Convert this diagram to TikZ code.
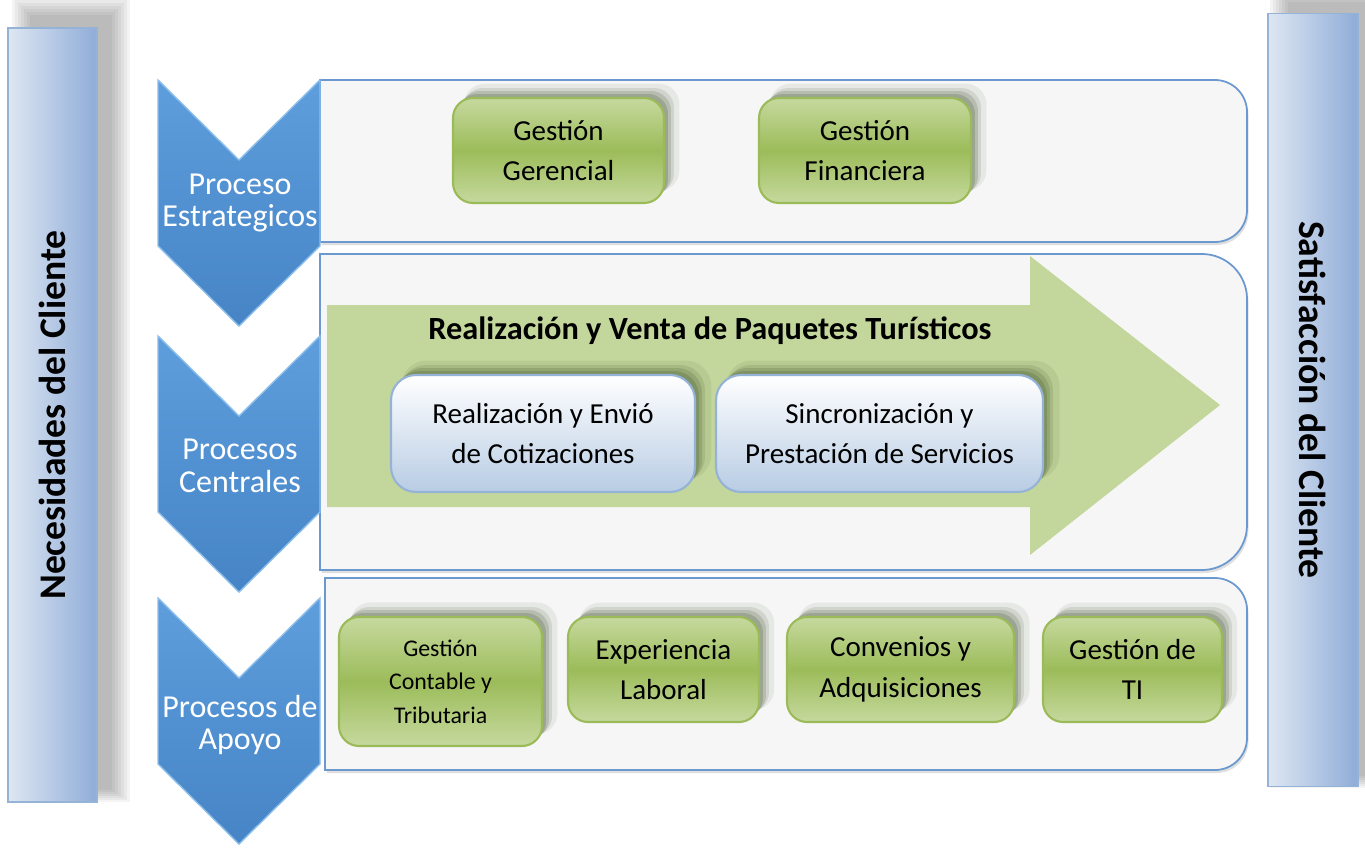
\documentclass[tikz,border=0pt]{standalone}
\usepackage{fontspec}
\setmainfont{Carlito}
\usetikzlibrary{shadows}

\definecolor{chevtop}{RGB}{94,158,220}
\definecolor{chevbot}{RGB}{70,132,198}
\definecolor{chevedge}{RGB}{140,190,235}
\definecolor{panelfill}{RGB}{246,246,246}
\definecolor{panelline}{RGB}{108,152,208}
\definecolor{arrowgreen}{RGB}{195,214,155}
\definecolor{greenlight}{RGB}{198,217,158}
\definecolor{greenmid}{RGB}{156,188,90}
\definecolor{greenline}{RGB}{155,187,89}
\definecolor{bluebot}{RGB}{184,204,228}
\definecolor{blueline}{RGB}{149,179,215}
\definecolor{barlight}{RGB}{222,231,242}
\definecolor{bardark}{RGB}{143,172,216}
\definecolor{shadowgreen}{RGB}{50,70,30}

\tikzset{
    softshadow/.style={
        drop shadow={shadow xshift=0.26cm, shadow yshift=0.26cm, shadow scale=1.02, opacity=0.08, fill=#1},
        drop shadow={shadow xshift=0.2cm, shadow yshift=0.2cm, opacity=0.12, fill=#1},
        drop shadow={shadow xshift=0.14cm, shadow yshift=0.14cm, opacity=0.16, fill=#1},
        drop shadow={shadow xshift=0.08cm, shadow yshift=0.08cm, opacity=0.2, fill=#1}},
    greenbox/.style={draw=greenline, line width=1.2pt, rounded corners=0.4cm,
        softshadow=shadowgreen,
        top color=greenlight, bottom color=greenlight, middle color=greenmid,
        inner sep=0pt, align=center, font=\fontsize{16.5}{23}\selectfont},
    bluebox/.style={draw=blueline, line width=1.2pt, rounded corners=0.5cm,
        softshadow=shadowgreen,
        top color=white, bottom color=bluebot,
        inner sep=0pt, align=center, font=\fontsize{16.5}{23}\selectfont},
    chevlabel/.style={text=white, align=center, font=\fontsize{18.2}{18.5}\selectfont},
    sidebar/.style={draw=blueline, line width=0.8pt, inner sep=0pt,
        left color=barlight, right color=bardark,
        font=\bfseries\fontsize{21.4}{24}\selectfont},
    panel/.style={draw=panelline, line width=1pt, fill=panelfill,
        drop shadow={shadow xshift=0.03cm, shadow yshift=-0.06cm, opacity=0.25}}
}

\begin{document}
\begin{tikzpicture}[x=0.02cm, y=-0.02cm]
    \useasboundingbox (0,0) rectangle (1365,848);

    % Soft shadows of the side bars
    \foreach \k in {0,...,6} {
        \fill[black, opacity=0.045] (30-\k*3,15-\k*3) rectangle (112+\k*3,790+\k*2);
        \fill[black, opacity=0.045] (1288-\k*3,2-\k*3) rectangle (1372+\k*3,776+\k*2);
    }

    % Side bars
    \node[sidebar, minimum width=1.78cm, minimum height=15.48cm] (need) at (52.5,415) {};
    \node[rotate=90, font=\bfseries\fontsize{21.4}{24}\selectfont] (needtext) at (need.center) {Necesidades del Cliente};
    \node[sidebar, minimum width=1.8cm, minimum height=15.46cm] (satis) at (1313,400) {};
    \node[rotate=-90, font=\bfseries\fontsize{21.4}{24}\selectfont] (satistext) at (satis.center) {Satisfacción del Cliente};

    % Panels
    \foreach \x/\t/\b/\r in {320/80/242/32, 320/254/570/45, 325/578/770/32} {
        \draw[panel] (\x,\t) -- ({1247-\r},\t)
            .. controls ({1247-0.45*\r},\t) and (1247,{\t+0.45*\r}) .. (1247,{\t+\r})
            -- (1247,{\b-\r})
            .. controls (1247,{\b-0.45*\r}) and ({1247-0.45*\r},\b) .. ({1247-\r},\b)
            -- (\x,\b) -- cycle;
    }

    % Big arrow of the central processes
    \fill[arrowgreen] (327,305) -- (1030,305) -- (1030,256) -- (1220,405)
        -- (1030,555) -- (1030,507) -- (327,507) -- cycle;

    % Chevrons
    \foreach \t/\h in {80/166, 336/176, 598/166} {
        \draw[chevedge, line width=0.8pt, top color=chevtop, bottom color=chevbot]
            (158,\t) -- (239,{\t+80}) -- (320,\t) -- (320,{\t+\h})
            -- (239,{\t+\h+80}) -- (158,{\t+\h}) -- cycle;
    }
    \node[chevlabel] (strat) at (240,203) {Proceso\\Estrategicos};
    \node[chevlabel] (central) at (240,466) {Procesos\\Centrales};
    \node[chevlabel] (apoyo) at (240,725) {Procesos de\\Apoyo};

    % Strategic processes
    \node[greenbox, minimum width=4.22cm, minimum height=2.1cm] (gerencial) at (558.5,150.5) {Gestión\\Gerencial};
    \node[greenbox, minimum width=4.24cm, minimum height=2.1cm] (financiera) at (865,150.5) {Gestión\\Financiera};

    % Central processes
    \node[font=\bfseries\fontsize{18.4}{20}\selectfont] (venta) at (710,331) {Realización y Venta de Paquetes Turísticos};
    \node[bluebox, minimum width=6.08cm, minimum height=2.34cm] (envio) at (543,433.5) {Realización y Envió\\de Cotizaciones};
    \node[bluebox, minimum width=6.54cm, minimum height=2.34cm] (servicios) at (879.5,433.5) {Sincronización y\\Prestación de Servicios};

    % Support processes
    \node[greenbox, minimum width=4.06cm, minimum height=2.58cm, font=\fontsize{13.6}{19}\selectfont] (contable) at (440.5,681.5) {Gestión\\Contable y\\Tributaria};
    \node[greenbox, minimum width=3.82cm, minimum height=2.1cm] (laboral) at (663.5,669.5) {Experiencia\\Laboral};
    \node[greenbox, minimum width=4.54cm, minimum height=2.1cm] (convenios) at (900.5,669.5) {Convenios y\\Adquisiciones};
    \node[greenbox, minimum width=3.58cm, minimum height=2.1cm] (ti) at (1132.5,669.5) {Gestión de\\TI};
\end{tikzpicture}
\end{document}
